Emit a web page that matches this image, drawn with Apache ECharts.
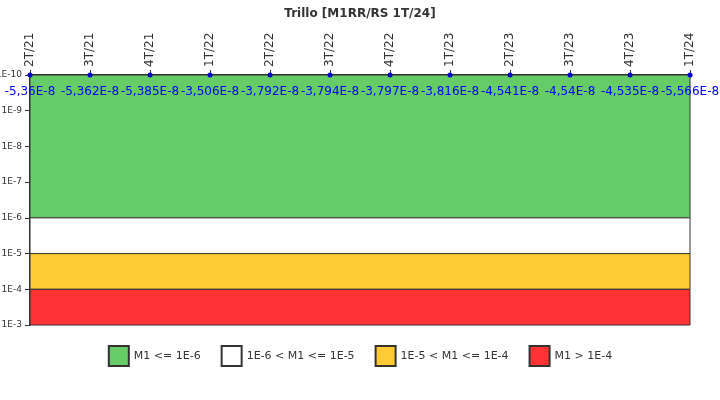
<!DOCTYPE html><html><head><meta charset="utf-8"><script src="https://cdn.jsdelivr.net/npm/echarts@6/dist/echarts.min.js"></script></head><body style="margin:0"><div id="c" style="width:720px;height:400px"></div><script>
const categories=['2T/21','3T/21','4T/21','1T/22','2T/22','3T/22','4T/22','1T/23','2T/23','3T/23','4T/23','1T/24'];
const valueLabels=['-5,36E-8','-5,362E-8','-5,385E-8','-3,506E-8','-3,792E-8','-3,794E-8','-3,797E-8','-3,816E-8','-4,541E-8','-4,54E-8','-4,535E-8','-5,566E-8'];
const plotted=[1e-10,1e-10,1e-10,1e-10,1e-10,1e-10,1e-10,1e-10,1e-10,1e-10,1e-10,1e-10];
const bands=[['M1 <= 1E-6',1e-10,1e-6,'#66cc66'],['1E-6 < M1 <= 1E-5',1e-6,1e-5,'#ffffff'],['1E-5 < M1 <= 1E-4',1e-5,1e-4,'#ffcc33'],['M1 > 1E-4',1e-4,1e-3,'#ff3333']];
const f='DejaVu Sans';
const series=bands.map(b=>({name:b[0],type:'line',data:[],itemStyle:{color:b[3],borderColor:'#333',borderWidth:1},
 markArea:{silent:true,itemStyle:{color:b[3],borderColor:'#333',borderWidth:1},data:[[{yAxis:b[1]},{yAxis:b[2]}]]}}));
series.push({type:'line',data:plotted,z:5,symbol:'circle',symbolSize:5,itemStyle:{color:'#0000cc'},lineStyle:{width:0},
 label:{show:true,position:'bottom',distance:8,color:'#0000ff',fontFamily:f,fontSize:12,formatter:p=>valueLabels[p.dataIndex]}});
echarts.init(document.getElementById('c')).setOption({
 animation:false,
 title:{text:'Trillo [M1RR/RS 1T/24]',left:'center',top:3,textStyle:{fontFamily:f,fontSize:12,fontWeight:'bold',color:'#333'}},
 grid:{left:30,right:30,top:75,bottom:75,containLabel:false,outerBoundsMode:'none'},
 legend:{bottom:28,itemWidth:20,itemHeight:20,itemGap:20,icon:'rect',textStyle:{fontFamily:f,fontSize:11,color:'#333'},data:bands.map(b=>b[0])},
 xAxis:{type:'category',data:categories,position:'top',boundaryGap:false,axisLine:{lineStyle:{color:'#333',width:2}},axisTick:{show:true,alignWithLabel:true},
  axisLabel:{rotate:-90,fontFamily:f,fontSize:12,color:'#333',interval:0}},
 yAxis:{type:'log',logBase:10,min:1e-10,max:1e-3,inverse:true,splitLine:{show:false},axisLine:{show:true,lineStyle:{color:'#333',width:2}},axisTick:{show:true},
  axisLabel:{fontFamily:f,fontSize:9,color:'#333',formatter:v=>'1E'+Math.round(Math.log10(v))}},
 series
});
</script></body></html>
